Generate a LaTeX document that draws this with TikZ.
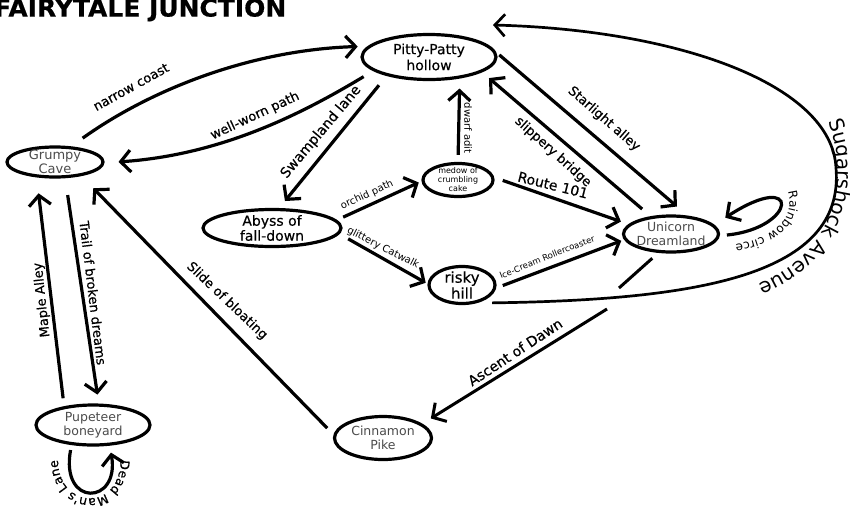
\documentclass[tikz,border=0pt]{standalone}
\usepackage{fontspec}
\setmainfont{DejaVu Sans}
\newfontfamily\labfont{DejaVu Sans}[FakeBold=0.5]
\newfontfamily\placefont{DejaVu Sans}[FakeBold=0.3]
\usetikzlibrary{shapes.geometric,arrows.meta,decorations.text}
\newcommand\sugarfont{\fontsize{20}{20}\selectfont}
\newcommand\loopfont{\fontsize{12}{12}\selectfont}
\newcommand\deadfont{\labfont\fontsize{12.5}{12.5}\selectfont}
\begin{document}
\begin{tikzpicture}[x=1pt,y=-1pt,
  place/.style={ellipse, draw, line width=3.2pt, inner sep=-2pt, align=center, font=\placefont\fontsize{14}{16}\selectfont},
  lightplace/.style={place, text=black!70, font=\fontsize{12.5}{14}\selectfont},
  road/.style={line width=3.2pt, -{Straight Barb[length=10pt,width=22pt]}},
  plainroad/.style={line width=3pt},
  lab/.style={inner sep=0pt, font=\labfont\fontsize{13}{15}\selectfont},
  biglab/.style={inner sep=0pt, font=\labfont\fontsize{14}{16}\selectfont},
  smalllab/.style={inner sep=0pt, font=\fontsize{10}{12}\selectfont},
  tinylab/.style={inner sep=0pt, font=\fontsize{8.5}{10}\selectfont}]
\path[use as bounding box, fill=white] (0,0) rectangle (850,509);

% title
\node[anchor=west, inner sep=0pt] (title) at (-6,10) {\resizebox{292pt}{18pt}{\labfont\bfseries FAIRYTALE JUNCTION}};

% places
\node[place, minimum width=134pt, minimum height=45pt] (pitty) at (429,57) {Pitty-Patty\\hollow};
\node[lightplace, minimum width=96pt, minimum height=30pt, font=\fontsize{13}{13.5}\selectfont] (grumpy) at (55,162) {Grumpy\\Cave};
\node[place, minimum width=138pt, minimum height=37pt, font=\placefont\fontsize{14}{15}\selectfont] (abyss) at (272,228) {Abyss of\\fall-down};
\node[place, minimum width=70pt, minimum height=33pt, inner sep=-3pt, font=\fontsize{8}{9}\selectfont] (medow) at (458,180) {medow of\\crumbling\\cake};
\node[place, minimum width=66pt, minimum height=37pt, inner sep=-4pt, font=\placefont\fontsize{15}{16}\selectfont] (risky) at (462,285) {risky\\hill};
\node[lightplace, minimum width=95pt, minimum height=36pt] (unicorn) at (671,234) {Unicorn\\Dreamland};
\node[lightplace, minimum width=114pt, minimum height=40pt] (pupeteer) at (93,425) {Pupeteer\\boneyard};
\node[lightplace, minimum width=97pt, minimum height=43pt] (cinnamon) at (383,438) {Cinnamon\\Pike};

% free points
\coordinate (sugarbend) at (836,168);
\coordinate (sugartip) at (493,25);
\coordinate (ascgapA) at (619,288);
\coordinate (ascgapB) at (607,309);

% connectors
\draw[road, shorten <=14pt, shorten >=10pt] (grumpy.44) .. controls (150,90) and (250,50) .. (pitty.170);
\draw[road, shorten <=11pt, shorten >=14pt] (pitty.194) .. controls (300,115) and (220,155) .. (grumpy.-1);
\draw[road, shorten <=12pt, shorten >=9pt] (pitty.204) -- (abyss.70);
\draw[road, shorten <=7pt, shorten >=10pt] (medow.90) -- (pitty.325);
\draw[road, shorten <=4pt, shorten >=14pt] (pitty.4) -- (unicorn.48);
\draw[road, shorten <=11pt, shorten >=9pt] (unicorn.139) -- (pitty.344);
\draw[road, shorten <=9pt, shorten >=8pt] (medow.4) -- (unicorn.167);
\draw[road, shorten <=7pt, shorten >=3pt] (abyss.7) -- (medow.182);
\draw[road, shorten <=10pt, shorten >=2pt] (abyss.355) -- (risky.178);
\draw[road, shorten <=7pt, shorten >=3pt] (risky.355) -- (unicorn.187);
\draw[road, shorten <=7pt, shorten >=13pt] (unicorn.-2) .. controls (797,228) and (802,168) .. (unicorn.12);
\draw[road, line width=2.7pt, shorten <=15pt] (risky.-50) .. controls (700,300) and (845,275) .. (sugarbend) .. controls (832,85) and (680,30) .. (sugartip);
\draw[plainroad, shorten <=8pt] (unicorn.236) -- (ascgapA);
\draw[road, line width=3pt, shorten >=10pt] (ascgapB) -- (cinnamon.20);
\draw[road, shorten <=9pt, shorten >=17pt] (cinnamon.176) -- (grumpy.332);
\draw[road, shorten <=8pt, shorten >=16pt] (pupeteer.147) -- (grumpy.220);
\draw[road, shorten <=17pt, shorten >=9pt] (grumpy.302) -- (pupeteer.75);
\draw[road, shorten <=5pt, shorten >=7pt] (pupeteer.223) .. controls (60,508) and (120,505) .. (pupeteer.309);

% labels
\node[lab, rotate=29] (l-narrow) at (131,87) {narrow coast};
\node[lab, rotate=25] (l-worn) at (255,116) {well-worn path};
\node[biglab, rotate=50] (l-swamp) at (321,132) {Swampland lane};
\node[smalllab, rotate=-90] (l-dwarf) at (468,128) {dwarf adit};
\node[lab, rotate=-41] (l-star) at (604,119) {Starlight alley};
\node[lab, rotate=-42] (l-slip) at (553,152) {slippery bridge};
\node[biglab, rotate=-14] (l-route) at (553,185) {Route 101};
\node[smalllab, rotate=25] (l-orchid) at (367,195) {orchid path};
\node[smalllab, rotate=-27] (l-glitter) at (383,248) {glittery Catwalk};
\node[tinylab, rotate=22] (l-ice) at (547,257) {Ice-Cream Rollercoaster};
\node[biglab, rotate=33.5] (l-dawn) at (515,352) {Ascent of Dawn};
\node[lab, rotate=-43.5] (l-slide) at (227,301) {Slide of bloating};
\node[lab, rotate=96] (l-maple) at (42,300) {Maple Alley};
\node[lab, rotate=-83] (l-trail) at (93,293) {Trail of broken dreams};

% curved labels
\path[decorate, decoration={text along path, text={|\sugarfont|Sugarshock Avenue}, text align=center}]
  (817,103) .. controls (848,140) and (858,262) .. (737,290);
\path[decorate, decoration={text along path, text={|\loopfont|Rainbow circe}, text align=center, raise=1pt}]
  (782,182) .. controls (800,210) and (780,242) .. (724,244);
\path[decorate, decoration={text along path, text={|\deadfont|Dead Man's Lane}, text align=center, raise=1pt}]
  (118,447) .. controls (131,514) and (49,514) .. (60,447);
\end{tikzpicture}
\end{document}
